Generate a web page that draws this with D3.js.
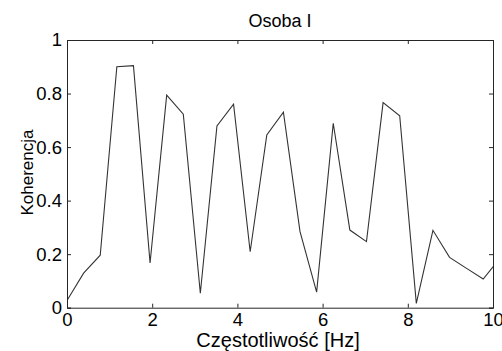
<!DOCTYPE html>
<html>
<head>
<meta charset="utf-8">
<script src="https://cdn.jsdelivr.net/npm/d3@7"></script>
<style>
body { margin: 0; background: #fff; }
text { font-family: Arial, "Liberation Sans", sans-serif; fill: #000; }
</style>
</head>
<body>
<script>
// czestotliwosci [Hz] i koherencja
var freqs = [0, 0.39, 0.78, 1.17, 1.56, 1.95, 2.34, 2.73, 3.13, 3.52, 3.91, 4.30, 4.69,
    5.08, 5.47, 5.86, 6.25, 6.64, 7.03, 7.42, 7.81, 8.20, 8.59, 8.98, 9.38, 9.77, 10.16];
var coh = [0.027, 0.129, 0.196, 0.900, 0.904, 0.167, 0.794, 0.723, 0.054, 0.679, 0.760, 0.209, 0.645,
    0.730, 0.284, 0.058, 0.689, 0.290, 0.247, 0.766, 0.717, 0.016, 0.289, 0.188, 0.147, 0.107, 0.184];
var xTicks = [0, 2, 4, 6, 8, 10];
var yTicks = [0, 0.2, 0.4, 0.6, 0.8, 1];

var W = 502, H = 351;
// uwaga: "top" jest zajete przez window.top
var pLeft = 67, pRight = 493, pTop = 40, pBottom = 307.7;

var svg = d3.select('body').append('svg')
        .attr('width', W)
        .attr('height', H);

var x = d3.scaleLinear().domain([0, 10]).range([pLeft, pRight]);
var y = d3.scaleLinear().domain([0, 1]).range([pBottom, pTop]);

svg.append('clipPath').attr('id', 'clip')
        .append('rect')
        .attr('x', pLeft).attr('y', pTop)
        .attr('width', pRight - pLeft).attr('height', pBottom - pTop);

var line = d3.line()
        .x(function (d, i) { return x(freqs[i]); })
        .y(function (d) { return y(d); });

svg.append('path')
        .datum(coh)
        .attr('clip-path', 'url(#clip)')
        .attr('d', line)
        .style('fill', 'none')
        .style('stroke', '#333')
        .style('stroke-width', 1.1);

// osie z kazdej strony - ticki do srodka jak w matlabie
var fmt = function (d) { return d3.format('~g')(d); };
var axB = svg.append('g').attr('transform', 'translate(0,' + pBottom + ')')
        .call(d3.axisBottom(x).tickValues(xTicks).tickSize(-4).tickPadding(5).tickFormat(fmt));
var axT = svg.append('g').attr('transform', 'translate(0,' + pTop + ')')
        .call(d3.axisTop(x).tickValues(xTicks).tickSize(-4).tickFormat(''));
var axL = svg.append('g').attr('transform', 'translate(' + pLeft + ',0)')
        .call(d3.axisLeft(y).tickValues(yTicks).tickSize(-4).tickPadding(5).tickFormat(fmt));
var axR = svg.append('g').attr('transform', 'translate(' + pRight + ',0)')
        .call(d3.axisRight(y).tickValues(yTicks).tickSize(-4).tickFormat(''));

[axB, axT, axL, axR].forEach(function (a) {
    a.selectAll('path.domain').style('stroke', '#262626').style('stroke-width', 1);
    a.selectAll('line').style('stroke', '#262626');
    a.selectAll('text').style('font-size', '18.5px').style('fill', '#000')
            .style('font-family', 'Arial, "Liberation Sans", sans-serif');
});

svg.append('text')
        .attr('x', (pLeft + pRight) / 2)
        .attr('y', 27)
        .attr('text-anchor', 'middle')
        .style('font-size', '18px')
        .text('Osoba I');

svg.append('text')
        .attr('x', 278)
        .attr('y', 347)
        .attr('text-anchor', 'middle')
        .style('font-size', '20px')
        .text('Częstotliwość [Hz]');

svg.append('text')
        .attr('transform', 'translate(33,172.5) rotate(-90)')
        .attr('text-anchor', 'middle')
        .style('font-size', '17px')
        .text('Koherencja');
</script>
</body>
</html>
